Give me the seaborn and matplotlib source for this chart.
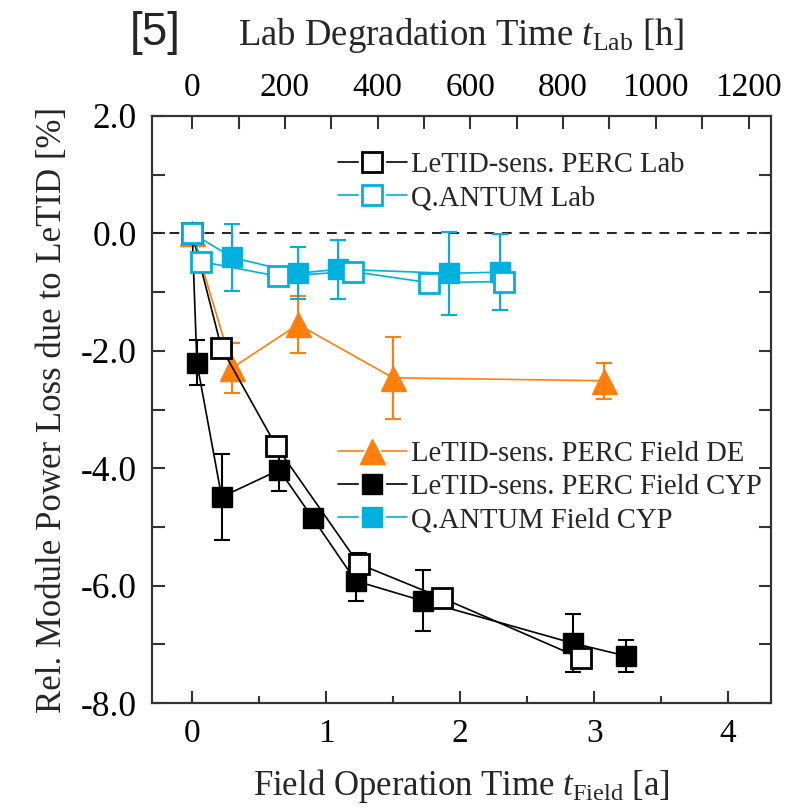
import matplotlib
matplotlib.use("Agg")
import matplotlib.pyplot as plt
from matplotlib.lines import Line2D
from matplotlib.legend_handler import HandlerTuple
from matplotlib.ticker import MultipleLocator, FormatStrFormatter
import seaborn as sns

sns.set_theme(style="ticks")
plt.rcParams["font.family"] = ["Liberation Serif", "DejaVu Serif"]
plt.rcParams["mathtext.fontset"] = "custom"
plt.rcParams["mathtext.rm"] = "Liberation Serif"
plt.rcParams["mathtext.it"] = "Liberation Serif:italic"
plt.rcParams["axes.unicode_minus"] = False

# ---- Lab degradation (time in hours, top axis) ----
perc_lab_h = [0, 63, 181, 359, 539, 839]
perc_lab_loss = [0.0, -1.95, -3.62, -5.63, -6.21, -7.24]
perc_lab_err = [0.0, 0.12, 0.10, 0.18, 0.08, 0.15]

qantum_lab_h = [0, 20, 185, 346, 511, 672]
qantum_lab_loss = [0.0, -0.48, -0.73, -0.65, -0.84, -0.82]
qantum_lab_err = [0.0, 0.05, 0.12, 0.10, 0.05, 0.05]

# ---- Field operation (time in years, bottom axis) ----
perc_de_a = [0, 0.30, 0.79, 1.50, 3.07]
perc_de_loss = [0.0, -2.29, -1.55, -2.46, -2.51]
perc_de_err = [0.0, 0.43, 0.48, 0.70, 0.31]

perc_cyp_a = [0, 0.035, 0.22, 0.65, 0.90, 1.22, 1.72, 2.84, 3.24]
perc_cyp_loss = [0.0, -2.20, -4.49, -4.03, -4.85, -5.92, -6.26, -6.98, -7.20]
perc_cyp_err = [0.0, 0.38, 0.74, 0.36, 0.0, 0.35, 0.52, 0.50, 0.28]

qantum_cyp_a = [0, 0.30, 0.79, 1.09, 1.92, 2.30]
qantum_cyp_loss = [0.0, -0.41, -0.68, -0.61, -0.68, -0.66]
qantum_cyp_err = [0.0, 0.57, 0.44, 0.50, 0.71, 0.65]

labels_lab = ["LeTID-sens. PERC Lab", "Q.ANTUM Lab"]
labels_field = ["LeTID-sens. PERC Field DE", "LeTID-sens. PERC Field CYP",
                "Q.ANTUM Field CYP"]

BLACK = "#000000"
CYAN = "#00B0DE"
ORANGE = "#FF7F0A"
HOURS_PER_YEAR_AXIS = 289.0

fig = plt.figure(figsize=(7.9, 8.08), dpi=100)
ax = fig.add_axes([152 / 790, 1 - 703 / 808, (771 - 152) / 790, (703 - 116) / 808])
ax.set_xlim(-0.30, 4.32)
ax.set_ylim(-8.0, 2.0)
ax2 = ax.twiny()
ax2.set_xlim(ax.get_xlim()[0] * HOURS_PER_YEAR_AXIS, ax.get_xlim()[1] * HOURS_PER_YEAR_AXIS)
ax2.set_ylim(-8.0, 2.0)

ax.axhline(0.0, color="#222222", lw=1.4, ls=(0, (5, 4)), zorder=1)

err_kw = dict(fmt="none", elinewidth=1.5, capsize=5.5, capthick=1.5, zorder=2)


def marker_style(color, marker, filled, ms):
    return dict(marker=marker, markersize=ms,
                markerfacecolor=color if filled else "white",
                markeredgecolor=color,
                markeredgewidth=1.0 if filled else 2.0)


def series(axis, x, y, err, color, marker, filled, ms=14):
    axis.errorbar(x, y, yerr=err, ecolor=color, **err_kw)
    sns.lineplot(x=x, y=y, ax=axis, sort=False, color=color, lw=1.2,
                 legend=False, zorder=3, **marker_style(color, marker, filled, ms))
    # legend key: line, white gap around the symbol, then the symbol itself
    line = Line2D([], [], color=color, lw=1.2)
    gap = Line2D([], [], ls="none", marker=marker, markersize=ms + 5,
                 markerfacecolor="white", markeredgecolor="white")
    sym = Line2D([], [], ls="none", **marker_style(color, marker, filled, ms))
    return (line, gap, sym)


h_de = series(ax, perc_de_a, perc_de_loss, perc_de_err, ORANGE, "^", True, ms=18)
h_cyp = series(ax, perc_cyp_a, perc_cyp_loss, perc_cyp_err, BLACK, "s", True)
h_qc = series(ax, qantum_cyp_a, qantum_cyp_loss, qantum_cyp_err, CYAN, "s", True)

h_pl = series(ax2, perc_lab_h, perc_lab_loss, perc_lab_err, BLACK, "s", False)
h_ql = series(ax2, qantum_lab_h, qantum_lab_loss, qantum_lab_err, CYAN, "s", False)

leg_kw = dict(loc="upper left", frameon=False, fontsize=20.6, borderpad=0,
              borderaxespad=0, handlelength=2.4, handletextpad=0.15,
              labelspacing=0.25, numpoints=1, bbox_transform=fig.transFigure,
              handler_map={tuple: HandlerTuple(ndivide=1)})
ax2.legend([h_pl, h_ql], labels_lab, bbox_to_anchor=(338 / 790, 1 - 152 / 808), **leg_kw)
ax.legend([h_de, h_cyp, h_qc], labels_field, bbox_to_anchor=(338 / 790, 1 - 441 / 808), **leg_kw)

# Axes, ticks and labels
for a in (ax, ax2):
    for s in a.spines.values():
        s.set_linewidth(1.5)
        s.set_color("#333333")

ax.xaxis.set_major_locator(MultipleLocator(1))
ax.xaxis.set_minor_locator(MultipleLocator(0.5))
ax.yaxis.set_major_locator(MultipleLocator(2))
ax.yaxis.set_minor_locator(MultipleLocator(1))
ax.yaxis.set_major_formatter(FormatStrFormatter("%.1f"))
ax.tick_params(axis="both", which="both", direction="in", colors="#333333",
               labelcolor="black", width=1.5, right=True, top=False)
ax.tick_params(axis="x", which="major", length=9, pad=11, labelsize=24)
ax.tick_params(axis="x", which="minor", length=5)
ax.tick_params(axis="y", which="major", length=9, pad=11, labelsize=25.5)
ax.tick_params(axis="y", which="minor", length=9)

ax2.xaxis.set_major_locator(MultipleLocator(200))
ax2.xaxis.set_minor_locator(MultipleLocator(100))
ax2.tick_params(axis="x", which="both", direction="in", colors="#333333",
                labelcolor="black", labelsize=24, width=1.5, length=9, pad=9)
ax2.tick_params(axis="y", which="both", left=False, right=False,
                labelleft=False, labelright=False)

ax.set_xlabel(r"Field Operation Time $t_{\mathrm{Field}}$ [a]", fontsize=25, labelpad=13)
ax2.set_xlabel(r"Lab Degradation Time $t_{\mathrm{Lab}}$ [h]", fontsize=26.5, labelpad=20)
ax.set_ylabel("Rel. Module Power Loss due to LeTID [%]", fontsize=25, labelpad=8)

fig.text(155 / 790, 1 - 33 / 808, "[5]", family=["Liberation Sans", "DejaVu Sans"],
         fontsize=33, ha="center", va="center")

fig.savefig("out.png", dpi=100)
